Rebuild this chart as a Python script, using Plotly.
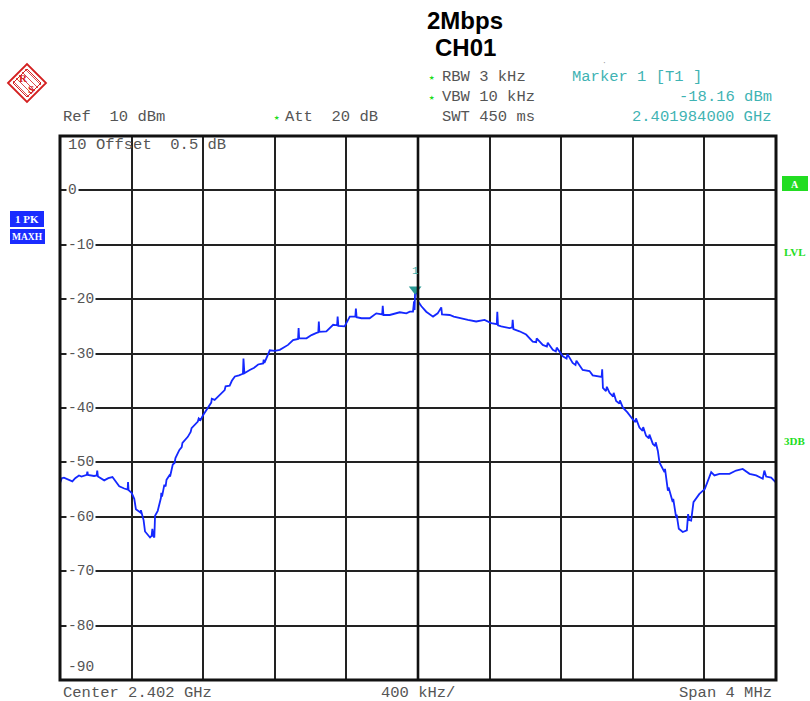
import plotly.graph_objects as go

# ---------------- data ----------------
center_ghz = 2.402
start_ghz = 2.400
stop_ghz = 2.404
# trace: frequency offset from 2.400 GHz (MHz) and level (dBm), in four segments
left_skirt_mhz = [0.000, 0.010, 0.022, 0.045, 0.069, 0.085, 0.106, 0.120, 0.150, 0.153, 0.156, 0.190, 0.205,
                  0.208, 0.212, 0.247, 0.270, 0.293, 0.331, 0.359, 0.378, 0.380, 0.383, 0.400, 0.415, 0.424,
                  0.449, 0.452, 0.467, 0.475, 0.503, 0.512, 0.516, 0.522, 0.527, 0.531, 0.546]
left_skirt_dbm = [-53.8, -52.9, -52.8, -53.2, -53.5, -52.9, -52.4, -52.6, -52.3, -51.6, -52.3, -52.5, -52.4,
                  -51.5, -52.6, -53.3, -52.9, -52.7, -54.4, -54.8, -55.0, -53.6, -55.1, -55.6, -56.7, -58.6,
                  -59.2, -58.8, -60.6, -62.7, -63.8, -63.5, -62.2, -63.6, -63.8, -59.8, -58.9]

rising_mhz = [0.564, 0.566, 0.570, 0.583, 0.590, 0.595, 0.611, 0.615, 0.630, 0.640, 0.645, 0.667, 0.680,
              0.684, 0.714, 0.730, 0.735, 0.770, 0.775, 0.785, 0.800, 0.815, 0.826, 0.845, 0.848, 0.864,
              0.880, 0.900, 0.920, 0.925, 0.948, 0.960, 0.977, 1.000, 1.022, 1.025, 1.030, 1.060, 1.085,
              1.107, 1.135, 1.138, 1.142, 1.172, 1.200, 1.228, 1.250, 1.274, 1.302, 1.330, 1.333, 1.336,
              1.377, 1.405, 1.433, 1.443, 1.446, 1.449, 1.488, 1.526, 1.548, 1.551, 1.555, 1.590, 1.619,
              1.650, 1.653, 1.657, 1.684, 1.730, 1.767, 1.800, 1.803, 1.807, 1.842, 1.898, 1.935, 1.954,
              1.972, 1.978, 1.981]
rising_dbm = [-56.5, -55.6, -56.3, -54.1, -54.4, -53.2, -52.4, -52.6, -50.4, -50.1, -49.2, -47.7, -47.2,
              -46.4, -45.3, -44.4, -43.7, -42.5, -41.9, -42.2, -41.3, -40.5, -39.8, -39.0, -38.3, -38.5,
              -38.0, -37.4, -36.7, -36.0, -35.9, -35.0, -34.2, -34.0, -33.7, -30.9, -33.6, -33.0, -32.6,
              -32.0, -31.8, -31.1, -31.7, -29.4, -29.5, -29.3, -28.9, -28.4, -27.5, -27.3, -25.3, -27.2,
              -27.2, -26.6, -26.2, -26.1, -24.1, -26.0, -25.9, -24.7, -24.8, -23.2, -24.9, -25.0, -23.2,
              -23.2, -21.7, -23.3, -23.5, -23.5, -22.6, -22.8, -21.2, -22.9, -22.9, -22.4, -22.6, -22.3,
              -22.3, -20.4, -22.0]

falling_mhz = [1.984, 1.990, 1.995, 2.000, 2.019, 2.046, 2.084, 2.110, 2.130, 2.134, 2.177, 2.200, 2.232,
               2.279, 2.325, 2.372, 2.409, 2.440, 2.443, 2.447, 2.465, 2.511, 2.526, 2.529, 2.533, 2.567,
               2.604, 2.641, 2.660, 2.663, 2.697, 2.720, 2.725, 2.753, 2.770, 2.775, 2.809, 2.830, 2.835,
               2.864, 2.880, 2.885, 2.920, 2.958, 2.976, 2.995, 3.026, 3.029, 3.033]
falling_dbm = [-18.16, -19.0, -18.8, -20.4, -21.3, -22.3, -23.2, -22.6, -21.5, -22.8, -22.9, -23.2, -23.5,
               -23.8, -24.1, -23.8, -24.4, -24.6, -22.3, -24.8, -25.0, -25.3, -25.2, -23.8, -25.5, -25.9,
               -26.5, -27.8, -27.9, -27.2, -28.4, -28.7, -28.0, -29.3, -29.6, -28.9, -30.5, -30.9, -30.1,
               -31.7, -32.1, -31.3, -33.0, -33.2, -34.0, -34.1, -34.3, -32.9, -36.3]

right_skirt_mhz = [3.050, 3.055, 3.070, 3.090, 3.093, 3.107, 3.125, 3.128, 3.144, 3.170, 3.200, 3.215, 3.218,
                   3.237, 3.255, 3.258, 3.274, 3.290, 3.293, 3.312, 3.325, 3.328, 3.340, 3.349, 3.377, 3.380,
                   3.396, 3.400, 3.423, 3.426, 3.442, 3.445, 3.457, 3.479, 3.502, 3.509, 3.515, 3.526, 3.539,
                   3.572, 3.602, 3.619, 3.638, 3.656, 3.684, 3.740, 3.777, 3.814, 3.852, 3.889, 3.926, 3.935,
                   3.945, 3.973, 4.000]
right_skirt_dbm = [-36.9, -36.1, -37.2, -37.9, -37.2, -38.7, -39.2, -38.6, -39.9, -40.8, -42.1, -42.6, -41.9,
                   -43.6, -44.2, -43.5, -45.1, -45.6, -44.9, -46.6, -47.0, -46.3, -47.9, -50.0, -51.8, -51.2,
                   -55.2, -54.6, -57.3, -56.7, -60.1, -59.6, -62.2, -62.8, -62.5, -59.5, -60.6, -60.7, -57.3,
                   -55.8, -54.9, -53.4, -51.8, -52.4, -52.1, -52.1, -51.5, -51.2, -52.1, -52.4, -53.0, -51.5,
                   -52.6, -52.8, -53.7]

marker_freq_mhz = 1.984
marker_level = -18.16
y_tick_values = [0, -10, -20, -30, -40, -50, -60, -70, -80]
y_tick_labels = ["0", "-10", "-20", "-30", "-40", "-50", "-60", "-70", "-80"]

freq_mhz = left_skirt_mhz + rising_mhz + falling_mhz + right_skirt_mhz
level_dbm = left_skirt_dbm + rising_dbm + falling_dbm + right_skirt_dbm

# ---------------- geometry (screen pixels) ----------------
W, H = 810, 701
L, R, T, B = 60, 776, 136, 680
PW, PH = R - L, B - T
GRAY = "#555555"
TEAL = "#3fb3b3"
GREEN = "#22dd22"
BLUE = "#1428ff"
MONO = "Liberation Mono, Courier New, monospace"
SERIF = "Liberation Serif, serif"
FS = 15.5


def px(x):
    return (x - L) / PW


def py(y):
    return (B - y) / PH


fx = [start_ghz + f / 1000.0 for f in freq_mhz]

fig = go.Figure()
fig.add_trace(go.Scatter(x=fx, y=level_dbm, mode="lines",
                         line=dict(color=BLUE, width=1.8), hoverinfo="skip", showlegend=False))
fig.add_trace(go.Scatter(x=[start_ghz + marker_freq_mhz / 1000.0], y=[marker_level], mode="markers",
                         marker=dict(symbol="triangle-down", size=11, color="#2a9a94"),
                         showlegend=False, hoverinfo="skip"))

fig.update_xaxes(range=[start_ghz, stop_ghz], dtick=0.0004, tick0=start_ghz, showgrid=True,
                 gridcolor="#222222", gridwidth=1.5, showticklabels=False, zeroline=False, ticks="",
                 showline=False)
fig.update_yaxes(range=[-90, 10], dtick=10, tick0=-90, showgrid=True, gridcolor="#222222",
                 gridwidth=1.5, showticklabels=False, zeroline=False, ticks="", showline=False)

shapes = []
shapes.append(dict(type="rect", xref="paper", yref="paper", x0=0, x1=1, y0=0, y1=1,
                   line=dict(color="#111111", width=3)))
shapes.append(dict(type="line", xref="x", yref="paper", x0=center_ghz, x1=center_ghz, y0=0, y1=1,
                   line=dict(color="#111111", width=2.6)))
shapes.append(dict(type="rect", xref="paper", yref="paper", x0=px(10), x1=px(44), y0=py(227), y1=py(211),
                   fillcolor="#1a2cff", line=dict(width=0)))
shapes.append(dict(type="rect", xref="paper", yref="paper", x0=px(10), x1=px(45), y0=py(244), y1=py(229),
                   fillcolor="#1a2cff", line=dict(width=0)))
shapes.append(dict(type="rect", xref="paper", yref="paper", x0=px(782), x1=px(808), y0=py(191), y1=py(176),
                   fillcolor=GREEN, line=dict(width=0)))


def diamond(cx, cy, r):
    return (f"M {px(cx - r)} {py(cy)} L {px(cx)} {py(cy - r)} L {px(cx + r)} {py(cy)} "
            f"L {px(cx)} {py(cy + r)} Z")


shapes.append(dict(type="path", xref="paper", yref="paper", path=diamond(27, 83, 19),
                   line=dict(color="#d42020", width=1.8)))
shapes.append(dict(type="path", xref="paper", yref="paper", path=diamond(27, 83, 14),
                   line=dict(color="#d42020", width=1)))
for k in range(-2, 3):
    off = k * 3
    shapes.append(dict(type="line", xref="paper", yref="paper",
                       x0=px(19 + off), y0=py(75 - off), x1=px(35 + off), y1=py(91 - off),
                       line=dict(color="#d42020", width=0.8)))

anns = []


def text(x, y, s, color=GRAY, size=FS, anchor="left", family=MONO, bold=False):
    anns.append(dict(xref="paper", yref="paper", x=px(x), y=py(y), text=("<b>%s</b>" % s) if bold else s,
                     showarrow=False, xanchor=anchor, yanchor="middle",
                     font=dict(color=color, size=size, family=family)))


TITLE_FONT = "Liberation Sans Narrow, Arial Narrow, Liberation Sans, Arial"
text(465, 20, "2Mbps", color="#000000", size=24, anchor="center", family=TITLE_FONT, bold=True)
text(465, 48, "CH01", color="#000000", size=24, anchor="center", family=TITLE_FONT, bold=True)

text(427, 78, "★", color=GREEN, size=9)
text(440, 77, "RBW 3 kHz")
text(427, 98, "★", color=GREEN, size=9)
text(440, 97, "VBW 10 kHz")
text(61, 117, "Ref  10 dBm")
text(272, 118, "★", color=GREEN, size=9)
text(283, 117, "Att  20 dB")
text(440, 117, "SWT 450 ms")
text(570, 77, "Marker 1 [T1 ]", color=TEAL)
text(774, 97, "-18.16 dBm", color=TEAL, anchor="right")
text(774, 117, "2.401984000 GHz", color=TEAL, anchor="right")

text(66, 145, "10 Offset  0.5 dB")
for v, lab in zip(y_tick_values, y_tick_labels):
    anns.append(dict(xref="paper", yref="y", x=px(66), y=v, text=lab, showarrow=False,
                     xanchor="left", yanchor="middle", bgcolor="#ffffff", borderpad=1,
                     font=dict(color=GRAY, size=FS - 1, family=MONO)))
text(66, 667, "-90", size=FS - 1)

text(61, 693, "Center 2.402 GHz")
text(379, 693, "400 kHz/")
text(774, 693, "Span 4 MHz", anchor="right")

text(27, 219, "1 PK", color="#ffffff", size=11, anchor="center", family=SERIF, bold=True)
text(27, 237, "MAXH", color="#ffffff", size=9.5, anchor="center", family=SERIF, bold=True)
text(795, 184, "A", color="#ffffff", size=10, anchor="center", family=SERIF, bold=True)
text(782, 252, "LVL", color=GREEN, size=11, family=SERIF, bold=True)
text(782, 441, "3DB", color=GREEN, size=11, family=SERIF, bold=True)

text(415, 271, "1", color=TEAL, size=11, anchor="center")
text(23, 78, "R", color="#d42020", size=11, anchor="center", family=SERIF, bold=True)
text(31, 89, "S", color="#d42020", size=11, anchor="center", family=SERIF, bold=True)
text(604, 62, "·", color="#999999", size=8, anchor="center")

fig.update_layout(width=W, height=H, margin=dict(l=L, r=W - R, t=T, b=H - B),
                  paper_bgcolor="#ffffff", plot_bgcolor="#ffffff",
                  shapes=shapes, annotations=anns, showlegend=False)

# remove the browser's default page margin so the figure sits at the window's top-left corner
fig.write_html("out.html", config={"displayModeBar": False},
               post_script="document.body.style.margin='0';")
